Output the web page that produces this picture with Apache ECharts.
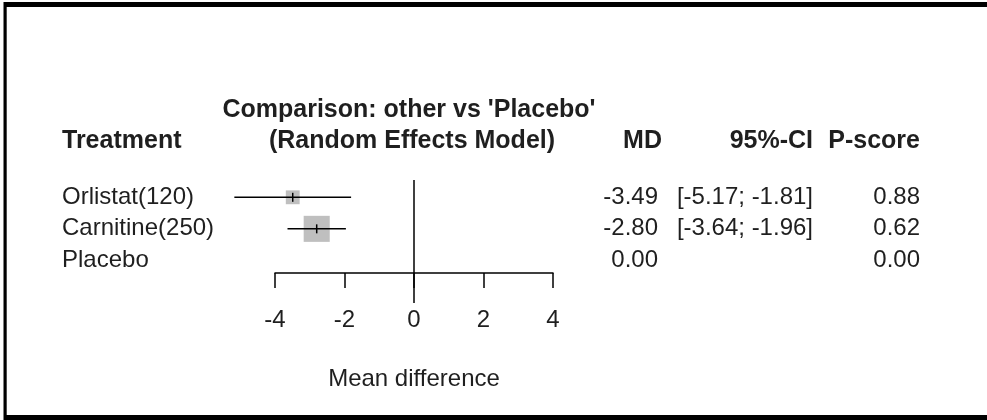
<!DOCTYPE html>
<html>
<head>
<meta charset="utf-8">
<script src="https://cdn.jsdelivr.net/npm/echarts@6/dist/echarts.min.js"></script>
<style>
html,body{margin:0;padding:0;background:#fff;}
#chart{width:987px;height:420px;}
</style>
</head>
<body>
<div id="chart"></div>
<script>
// ---- data ----
const treatments = ['Orlistat(120)', 'Carnitine(250)', 'Placebo'];
const md = [-3.49, -2.80, 0.00];
const ciLow = [-5.17, -3.64, null];
const ciHigh = [-1.81, -1.96, null];
const weights = [22, 78, null];
const pscore = [0.88, 0.62, 0.00];
const xTicks = [-4, -2, 0, 2, 4];
const headerTitle1 = "Comparison: other vs 'Placebo'";
const headerTitle2 = '(Random Effects Model)';
const xAxisName = 'Mean difference';

// ---- chart ----
const FONT = "'Liberation Sans', Arial, Helvetica, sans-serif";
const FS = 24;
const FSB = 25;
const TXT = '#1f1f1f';
const chart = echarts.init(document.getElementById('chart'), null, {renderer: 'canvas'});

const forestData = treatments.map((t, i) => [md[i], ciLow[i], ciHigh[i], i, weights[i]]);
const tableData = treatments.map((t, i) => [0, i]);

function fmt(v) { return v.toFixed(2); }
const BOLD = 'bold ' + FSB + 'px ' + FONT;

const option = {
  animation: false,
  backgroundColor: '#ffffff',
  grid: {left: 275, width: 278, top: 150, height: 123},
  xAxis: {
    type: 'value',
    min: xTicks[0], max: xTicks[xTicks.length - 1], interval: 2,
    position: 'bottom',
    splitLine: {show: false},
    axisLine: {show: true, onZero: false, lineStyle: {color: '#000', width: 1.5}},
    axisTick: {show: true, length: 15, lineStyle: {color: '#000', width: 1.5}},
    axisLabel: {fontSize: FS, fontFamily: FONT, color: TXT, margin: 35},
    name: xAxisName,
    nameLocation: 'middle',
    nameGap: 94,
    nameTextStyle: {fontSize: FS, fontFamily: FONT, color: TXT}
  },
  yAxis: {
    type: 'value', inverse: true, min: -1.5, max: 2.4, show: false
  },
  graphic: [
    {type: 'rect', shape: {x: 4, y: 2, width: 983, height: 5}, style: {fill: '#000'}},
    {type: 'rect', shape: {x: 3.5, y: 2, width: 3.2, height: 418}, style: {fill: '#000'}},
    {type: 'rect', shape: {x: 4, y: 415, width: 983, height: 5}, style: {fill: '#000'}},
    {type: 'text', x: 62, y: 141, style: {text: 'Treatment', font: BOLD, fill: TXT, align: 'left', verticalAlign: 'middle'}},
    {type: 'text', x: 409, y: 110, style: {text: headerTitle1, font: BOLD, fill: TXT, align: 'center', verticalAlign: 'middle'}},
    {type: 'text', x: 412, y: 141, style: {text: headerTitle2, font: BOLD, fill: TXT, align: 'center', verticalAlign: 'middle'}},
    {type: 'text', x: 662, y: 141, style: {text: 'MD', font: BOLD, fill: TXT, align: 'right', verticalAlign: 'middle'}},
    {type: 'text', x: 813, y: 141, style: {text: '95%-CI', font: BOLD, fill: TXT, align: 'right', verticalAlign: 'middle'}},
    {type: 'text', x: 920, y: 141, style: {text: 'P-score', font: BOLD, fill: TXT, align: 'right', verticalAlign: 'middle'}}
  ],
  series: [
    {
      // reference (no-effect) line at 0
      type: 'custom',
      clip: false,
      silent: true,
      data: [[0]],
      renderItem: function (params, api) {
        const top = api.coord([0, -0.55]);
        const bot = api.coord([0, 3.35]);
        return {type: 'line', shape: {x1: top[0], y1: top[1], x2: bot[0], y2: bot[1]},
                style: {stroke: '#000', lineWidth: 1.5}};
      }
    },
    {
      type: 'custom',
      clip: false,
      data: forestData,
      encode: {x: 0, y: 3},
      renderItem: function (params, api) {
        const lo = api.value(1), hi = api.value(2);
        if (lo == null || isNaN(lo)) return null;
        const row = api.value(3);
        const p = api.coord([api.value(0), row]);
        const a = api.coord([lo, row]);
        const b = api.coord([hi, row]);
        const s = 2.95 * Math.sqrt(api.value(4));
        return {type: 'group', children: [
          {type: 'rect', shape: {x: p[0] - s / 2, y: p[1] - s / 2, width: s, height: s}, style: {fill: '#bfbfbf'}},
          {type: 'line', shape: {x1: a[0], y1: a[1], x2: b[0], y2: b[1]}, style: {stroke: '#000', lineWidth: 1.5}},
          {type: 'line', shape: {x1: p[0], y1: p[1] - 4.5, x2: p[0], y2: p[1] + 4.5}, style: {stroke: '#000', lineWidth: 1.5}}
        ]};
      }
    },
    {
      // text table columns
      type: 'custom',
      clip: false,
      data: tableData,
      encode: {x: 0, y: 1},
      renderItem: function (params, api) {
        const i = params.dataIndex;
        const y = api.coord([0, api.value(1)])[1];
        const font = FS + 'px ' + FONT;
        const kids = [
          {type: 'text', x: 62, y: y, style: {text: treatments[i], font: font, fill: TXT, align: 'left', verticalAlign: 'middle'}},
          {type: 'text', x: 658, y: y, style: {text: fmt(md[i]), font: font, fill: TXT, align: 'right', verticalAlign: 'middle'}},
          {type: 'text', x: 920, y: y, style: {text: fmt(pscore[i]), font: font, fill: TXT, align: 'right', verticalAlign: 'middle'}}
        ];
        if (ciLow[i] != null) {
          kids.push({type: 'text', x: 813, y: y, style: {text: '[' + fmt(ciLow[i]) + '; ' + fmt(ciHigh[i]) + ']', font: font, fill: TXT, align: 'right', verticalAlign: 'middle'}});
        }
        return {type: 'group', children: kids};
      }
    }
  ]
};
chart.setOption(option);
</script>
</body>
</html>
